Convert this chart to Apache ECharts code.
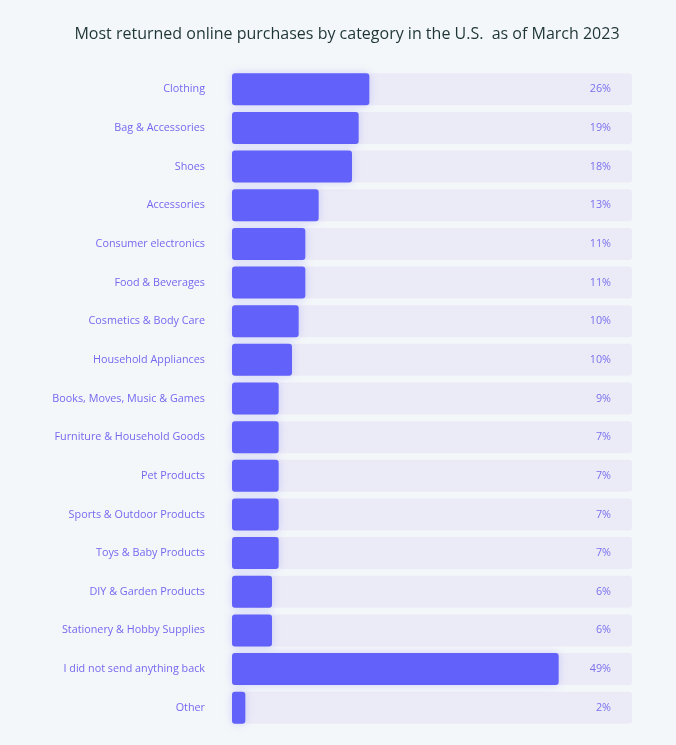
<!DOCTYPE html>
<html>
<head>
<meta charset="utf-8">
<script src="https://cdn.jsdelivr.net/npm/echarts@6/dist/echarts.min.js"></script>
<style>
html,body{margin:0;padding:0;background:#f4f7f9;}
#chart{width:676px;height:745px;}
</style>
</head>
<body>
<div id="chart"></div>
<script>
const categories = [
  "Clothing", "Bag & Accessories", "Shoes", "Accessories", "Consumer electronics",
  "Food & Beverages", "Cosmetics & Body Care", "Household Appliances",
  "Books, Moves, Music & Games", "Furniture & Household Goods", "Pet Products",
  "Sports & Outdoor Products", "Toys & Baby Products", "DIY & Garden Products",
  "Stationery & Hobby Supplies", "I did not send anything back", "Other"
];
// bar lengths as drawn in the picture
const barValues = [20.6, 19, 18, 13, 11, 11, 10, 9, 7, 7, 7, 7, 7, 6, 6, 49, 2];
// percentages printed at the right
const valueLabels = ["26%", "19%", "18%", "13%", "11%", "11%", "10%", "10%", "9%", "7%", "7%", "7%", "7%", "6%", "6%", "49%", "2%"];

const chart = echarts.init(document.getElementById('chart'));
const font = "'Open Sans', sans-serif";
chart.setOption({
  backgroundColor: '#f4f7f9',
  animation: false,
  title: {
    text: 'Most returned online purchases by category in the U.S.  as of March 2023',
    left: 342, top: 21, textAlign: 'center',
    textStyle: { fontFamily: font, fontSize: 16, fontWeight: 500, color: '#1e3538' }
  },
  grid: { left: 232, top: 70, width: 400, height: 657 },
  xAxis: { type: 'value', min: 0, max: 60, show: false },
  yAxis: {
    type: 'category', data: categories, inverse: true,
    axisLine: { show: false }, axisTick: { show: false }, splitLine: { show: false },
    axisLabel: { margin: 27, fontFamily: font, fontSize: 10.8, color: '#7468f0' }
  },
  series: [{
    type: 'bar', data: barValues, barWidth: 32,
    showBackground: true,
    backgroundStyle: { color: '#ebebf7', borderRadius: 3 },
    itemStyle: { color: '#6262fa', borderRadius: 3, shadowBlur: 8, shadowColor: 'rgba(98,98,250,0.25)' },
    label: {
      show: true, position: [379, '50%'], align: 'right', verticalAlign: 'middle',
      fontFamily: font, fontSize: 10.8, color: '#7a70ee',
      formatter: p => valueLabels[p.dataIndex]
    }
  }]
});
</script>
</body>
</html>
